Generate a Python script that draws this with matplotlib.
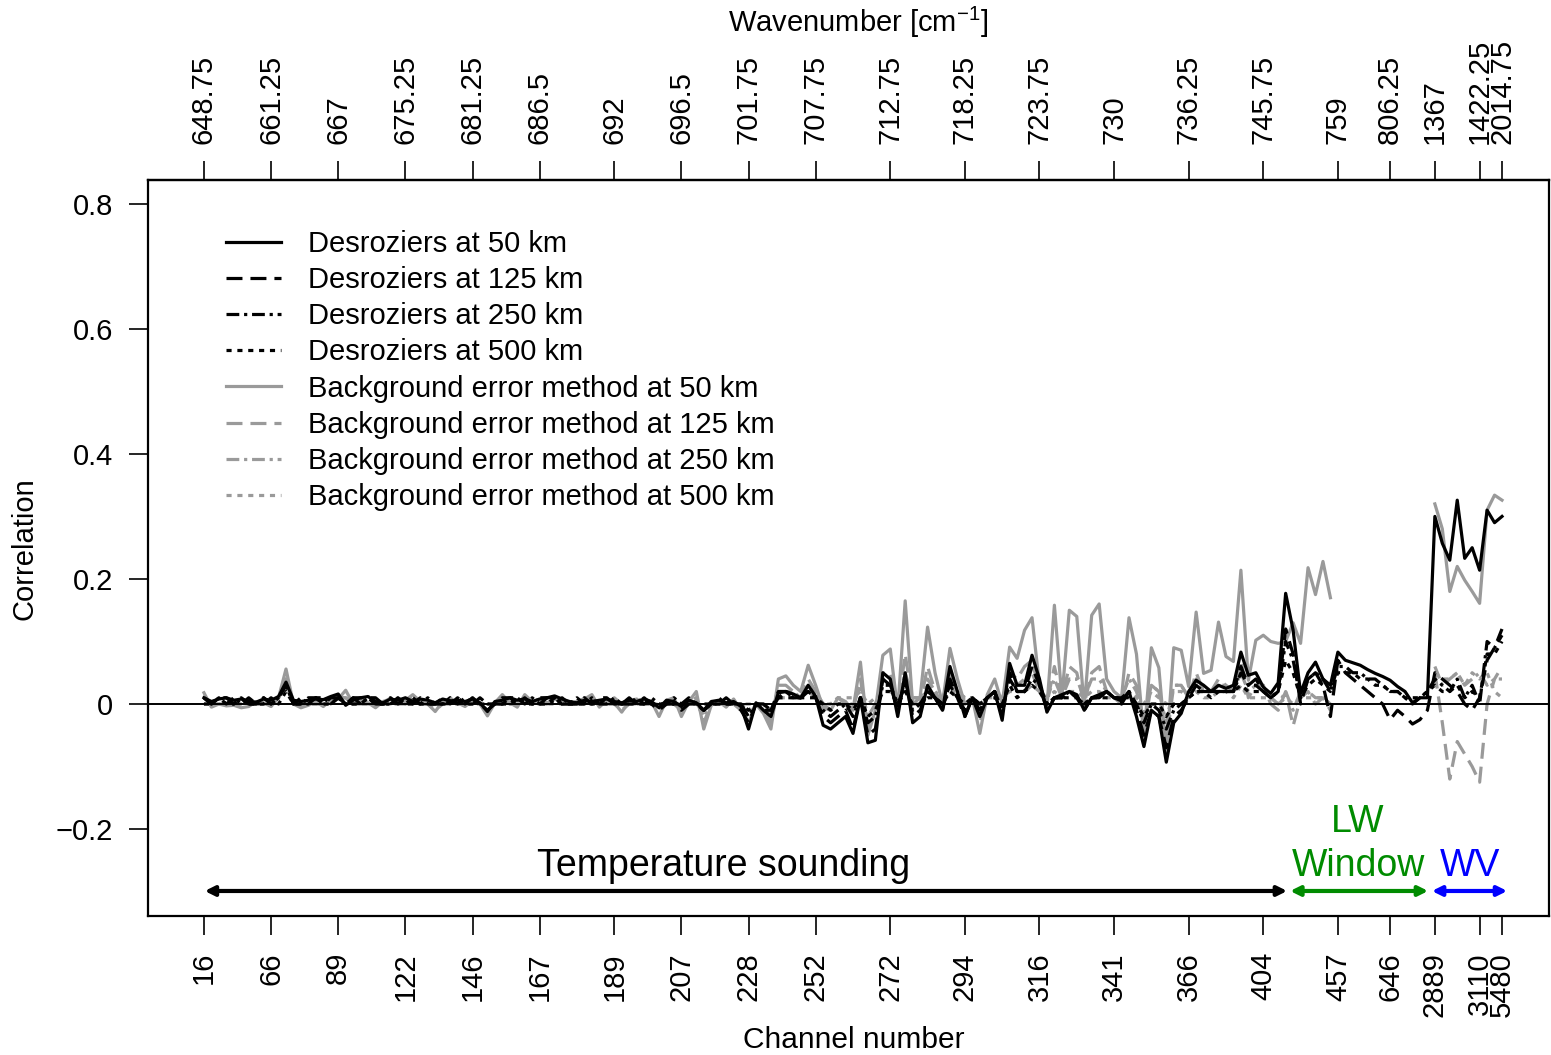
import numpy as np
import matplotlib
matplotlib.use("Agg")
import matplotlib.pyplot as plt

plt.rcParams['font.family'] = ['Liberation Sans', 'DejaVu Sans']
nan = np.nan

# ----------------------------
# Eixos: canais e números de onda
# ----------------------------
tick_idx = [0, 9, 18, 27, 36, 45, 55, 64, 73, 82, 92, 102, 112, 122, 132,
            142, 152, 159, 165, 171, 174]
chan_labels = ['16', '66', '89', '122', '146', '167', '189', '207', '228', '252',
               '272', '294', '316', '341', '366', '404', '457', '646', '2889',
               '3110', '5480']
wn_labels = ['648.75', '661.25', '667', '675.25', '681.25', '686.5', '692',
             '696.5', '701.75', '707.75', '712.75', '718.25', '723.75', '730',
             '736.25', '745.75', '759', '806.25', '1367', '1422.25', '2014.75']

# ----------------------------
# Correlações (175 canais)
# ----------------------------
des50 = [0.010, 0.004, 0.008, 0.010, 0.006, 0.008, 0.004, 0.003, 0.008, 0.006,
         0.012, 0.035, 0.006, 0.004, 0.006, 0.008, 0.007, 0.012, 0.016, -0.002,
         0.006, 0.010, 0.012, 0.004, 0.002, 0.008, 0.006, 0.010, 0.004, 0.008,
         0.006, 0.002, 0.008, 0.005, 0.006, 0.004, 0.008, 0.002, -0.012, 0.004,
         0.006, 0.010, 0.006, 0.008, 0.004, 0.008, 0.010, 0.013, 0.008, 0.004,
         0.002, 0.006, 0.004, 0.006, 0.008, 0.004, 0.002, 0.006, 0.004, 0.008,
         0.004, -0.006, 0.006, 0.004, -0.004, 0.006, 0.002, -0.010, 0.004, 0.006,
         0.002, 0.004, -0.004, -0.040, 0.002, -0.010, -0.020, 0.018, 0.020, 0.016,
         0.010, 0.030, 0.012, -0.034, -0.040, -0.030, -0.020, -0.047, 0.010, -0.062,
         -0.058, 0.050, 0.040, -0.020, 0.050, -0.030, -0.020, 0.030, 0.010, -0.010,
         0.060, 0.020, -0.020, 0.010, -0.020, 0.010, 0.020, -0.026, 0.065, 0.030,
         0.030, 0.078, 0.040, -0.013, 0.010, 0.015, 0.020, 0.015, -0.010, 0.010,
         0.015, 0.020, 0.010, 0.005, 0.020, -0.020, -0.068, -0.010, -0.020, -0.093,
         -0.030, -0.015, 0.020, 0.038, 0.030, 0.020, 0.030, 0.025, 0.030, 0.083,
         0.046, 0.050, 0.027, 0.017, 0.034, 0.177, 0.118, 0.017, 0.050, 0.067,
         0.040, 0.030, 0.083, 0.070, 0.066, 0.062, 0.055, 0.049, 0.044, 0.038,
         0.028, 0.020, 0.002, 0.010, 0.010, 0.300, 0.257, 0.230, 0.326, 0.233,
         0.250, 0.214, 0.310, 0.290, 0.300]

des125 = [.01, .00, .01, .01, .00, .01, .00, .00, .01, .00,
          .01, .03, .00, .00, .01, .01, .00, .01, .01, .00,
          .01, .01, .01, .00, .00, .01, .00, .01, .00, .01,
          .00, .00, .01, .00, .01, .00, .01, .00, -.01, .00,
          .01, .01, .00, .01, .00, .01, .01, .01, .00, .00,
          .00, .01, .00, .01, .01, .00, .00, .01, .00, .01,
          .00, -.01, .00, .00, -.01, .00, .00, -.01, .00, .01,
          .00, .00, -.01, -.03, .00, -.01, -.01, .02, .02, .01,
          .01, .02, .01, -.02, -.03, -.02, -.01, -.04, .01, -.05,
          -.04, .04, .03, -.01, .04, -.02, -.01, .02, .01, -.01,
          .04, .01, -.02, .01, -.01, .01, .02, -.02, .05, .02,
          .02, .06, .03, -.01, .01, .01, .02, .01, -.01, .01,
          .01, .02, .01, .00, .02, -.01, -.05, -.01, -.02, -.07,
          -.02, -.01, .01, .03, .02, .02, .02, .02, .02, .06,
          .03, .04, .02, .01, .02, .12, .08, .00, .04, .05,
          .03, -.02, .07, .05, .04, .03, .02, .01, .00, -.025,
          -.01, -.02, -.032, -.025, -.01, .05, .04, .03, .02, .00,
          -.01, .01, .07, .09, .12]

des250 = [.01, .00, .01, .00, .01, .00, .01, .00, .01, .00,
          .01, .03, .00, .01, .00, .01, .01, .00, .01, .00,
          .01, .00, .01, .01, .00, .00, .01, .00, .01, .00,
          .01, .00, .00, .01, .00, .01, .00, .01, .00, .00,
          .00, .01, .01, .00, .01, .00, .01, .00, .01, .00,
          .01, .00, .01, .00, .00, .01, .00, .00, .01, .00,
          .01, .00, .00, .01, .00, .01, .00, -.01, .00, .00,
          .01, .00, .00, -.02, .00, .00, -.01, .01, .02, .01,
          .01, .02, .01, -.01, -.02, -.01, .00, -.02, .01, -.03,
          -.02, .03, .03, .00, .03, -.01, .00, .02, .01, .00,
          .03, .01, -.01, .01, .00, .01, .02, -.01, .04, .02,
          .02, .04, .03, .00, .01, .01, .02, .01, .00, .01,
          .01, .02, .01, .01, .02, .00, -.03, .00, -.01, -.04,
          -.01, .00, .01, .02, .02, .02, .02, .02, .02, .05,
          .03, .03, .02, .01, .02, .10, .07, .01, .04, .05,
          .04, .02, .06, .06, .05, .05, .04, .04, .03, .02,
          .02, .01, .00, .01, .02, .04, .03, .02, .04, .01,
          .03, .00, .10, .09, .11]

des500 = [.00, .00, .01, .00, .00, .01, .00, .00, .00, .01,
          .00, .02, .00, .00, .00, .01, .00, .00, .01, .00,
          .00, .00, .01, .00, .00, .00, .01, .00, .00, .00,
          .00, .00, .00, .00, .01, .00, .00, .00, .00, .00,
          .00, .00, .01, .00, .00, .00, .00, .01, .00, .00,
          .00, .00, .00, .00, .01, .00, .00, .00, .00, .00,
          .00, .00, .00, .00, .00, .00, .00, .00, .00, .00,
          .00, .00, .00, -.01, .00, .00, -.01, .01, .01, .01,
          .01, .01, .01, .00, -.01, .00, .00, -.01, .01, -.02,
          -.01, .02, .02, .00, .02, .00, .00, .01, .01, .00,
          .02, .01, .00, .01, .00, .01, .01, .00, .03, .01,
          .02, .03, .02, .00, .01, .01, .01, .01, .00, .01,
          .01, .01, .01, .01, .01, .00, -.02, .00, .00, -.02,
          .00, .00, .01, .02, .02, .01, .02, .02, .02, .03,
          .02, .02, .02, .01, .02, .07, .05, .01, .03, .04,
          .03, .02, .05, .05, .05, .04, .04, .03, .03, .02,
          .02, .01, .01, .01, .02, .03, .02, .02, .03, .01,
          .02, .01, .08, .08, .10]

bg50 = [0.018, -0.005, 0.000, -0.003, -0.002, -0.006, -0.004, 0.004, 0.002, -0.004,
        0.010, 0.056, 0.000, -0.006, -0.002, 0.004, -0.004, 0.006, 0.008, 0.022,
        0.000, 0.004, 0.002, -0.006, 0.004, 0.008, 0.002, 0.006, 0.015, 0.004,
        0.000, -0.012, 0.004, 0.008, 0.002, -0.004, 0.006, 0.000, -0.019, 0.002,
        0.015, 0.002, -0.005, 0.015, 0.004, 0.006, 0.002, 0.008, 0.004, 0.000,
        0.004, 0.008, 0.015, -0.005, 0.006, 0.002, -0.013, 0.004, 0.008, 0.000,
        0.004, -0.020, 0.006, 0.010, -0.020, 0.004, 0.020, -0.040, -0.002, 0.004,
        -0.005, 0.008, -0.010, -0.030, 0.000, -0.015, -0.040, 0.040, 0.045, 0.030,
        0.020, 0.062, 0.030, -0.006, -0.010, 0.010, 0.004, -0.010, 0.067, -0.050,
        -0.010, 0.078, 0.088, -0.010, 0.165, 0.000, 0.010, 0.123, 0.050, 0.000,
        0.089, 0.040, 0.000, 0.010, -0.047, 0.015, 0.040, 0.000, 0.091, 0.073,
        0.118, 0.138, 0.030, -0.005, 0.158, 0.010, 0.150, 0.140, -0.005, 0.142,
        0.160, 0.040, 0.020, 0.010, 0.138, 0.080, -0.053, 0.090, 0.058, -0.079,
        0.090, 0.086, 0.028, 0.147, 0.049, 0.054, 0.131, 0.076, 0.068, 0.214,
        0.038, 0.102, 0.110, 0.100, 0.097, 0.100, 0.130, 0.097, 0.218, 0.175,
        0.228, 0.170, nan, nan, nan, nan, nan, nan, nan, nan,
        nan, nan, nan, nan, nan, 0.320, 0.280, 0.180, 0.220, 0.198,
        0.180, 0.161, 0.310, 0.334, 0.326]

bg125 = [.01, .00, .00, .00, .00, .00, .00, .00, .00, .00,
         .01, .04, .00, .00, .00, .00, .00, .00, .01, .01,
         .00, .00, .00, .00, .00, .01, .00, .00, .01, .00,
         .00, -.01, .00, .01, .00, .00, .00, .00, -.01, .00,
         .01, .00, .00, .01, .00, .00, .00, .01, .00, .00,
         .00, .01, .01, .00, .00, .00, -.01, .00, .01, .00,
         .00, -.01, .00, .01, -.01, .00, .01, -.03, .00, .00,
         .00, .00, -.01, -.02, .00, -.01, -.03, .03, .03, .02,
         .01, .04, .02, .00, -.01, .00, .00, -.01, .04, -.04,
         -.01, .05, .05, -.01, .08, .00, .00, .06, .02, .00,
         .05, .02, .00, .01, -.03, .01, .02, .00, .05, .04,
         .06, .07, .02, .00, .06, .01, .06, .05, .00, .05,
         .06, .02, .01, .00, .05, .03, -.04, .03, .02, -.06,
         .03, .03, .01, .05, .02, .02, .04, .03, .02, .07,
         .01, .03, .03, .00, -.01, .02, -.035, .01, .02, .00,
         .01, -.01, nan, nan, nan, nan, nan, nan, nan, nan,
         nan, nan, nan, nan, nan, .05, -.03, -.12, -.06, -.08,
         -.10, -.125, .00, .04, .06]

bg250 = [.01, .00, .00, .00, .00, .00, .01, .00, .00, .00,
         .01, .04, .00, .00, .00, .01, .00, .00, .01, .01,
         .00, .01, .00, .00, .00, .00, .01, .00, .01, .00,
         .00, .00, .00, .01, .00, .00, .01, .00, -.01, .00,
         .01, .00, .00, .01, .00, .01, .00, .01, .00, .00,
         .00, .00, .01, .00, .00, .01, .00, .00, .00, .00,
         .00, -.01, .00, .00, -.01, .00, .01, -.02, .00, .00,
         .00, .00, .00, -.01, .00, .00, -.02, .02, .02, .02,
         .01, .03, .02, .00, .00, .01, .00, .00, .03, -.02,
         .00, .04, .04, .00, .05, .01, .01, .04, .02, .01,
         .04, .02, .01, .01, -.01, .01, .02, .01, .04, .03,
         .04, .05, .02, .01, .04, .01, .04, .04, .01, .04,
         .04, .02, .01, .01, .04, .02, -.02, .03, .02, -.03,
         .03, .03, .01, .04, .02, .02, .03, .03, .02, .05,
         .02, .03, .03, .01, .00, .02, -.01, .02, .02, .01,
         .01, .00, nan, nan, nan, nan, nan, nan, nan, nan,
         nan, nan, nan, nan, nan, .06, .03, .04, .05, .03,
         .04, .05, .03, .04, .04]

bg500 = [.00, .00, .00, .00, .00, .00, .00, .00, .00, .00,
         .01, .03, .00, .00, .00, .00, .00, .00, .01, .00,
         .00, .00, .00, .00, .00, .00, .00, .00, .01, .00,
         .00, .00, .00, .00, .00, .00, .00, .00, .00, .00,
         .00, .00, .00, .01, .00, .00, .00, .00, .00, .00,
         .00, .00, .01, .00, .00, .00, .00, .00, .00, .00,
         .00, .00, .00, .00, .00, .00, .00, -.01, .00, .00,
         .00, .00, .00, .00, .00, .00, -.01, .01, .01, .01,
         .01, .02, .01, .00, .00, .01, .01, .01, .02, .00,
         .01, .02, .02, .01, .03, .01, .01, .02, .01, .01,
         .02, .02, .01, .01, .00, .01, .01, .01, .02, .02,
         .02, .03, .02, .01, .02, .01, .02, .02, .01, .02,
         .02, .01, .01, .01, .02, .01, .00, .02, .01, .00,
         .02, .02, .01, .02, .01, .01, .02, .02, .01, .03,
         .01, .01, .01, .01, .00, .01, .00, .01, .01, .01,
         .01, .00, nan, nan, nan, nan, nan, nan, nan, nan,
         nan, nan, nan, nan, nan, .05, .04, .04, .05, .03,
         .05, .04, .05, .02, .01]

labels = ['Desroziers at 50 km', 'Desroziers at 125 km', 'Desroziers at 250 km',
          'Desroziers at 500 km', 'Background error method at 50 km',
          'Background error method at 125 km', 'Background error method at 250 km',
          'Background error method at 500 km']

# ----------------------------
# Figura
# ----------------------------
W, H = 1551, 1055
fig = plt.figure(figsize=(W / 100, H / 100), dpi=100)
ax = fig.add_axes([148 / W, 1 - 916 / H, (1549 - 148) / W, (916 - 180) / H])

grey = '#9a9a9a'
styles = ['-', (0, (5, 2.5)), (0, (4, 1.5, 1, 1.5)), (0, (1.6, 1.8))]
lw = 2.3

series_bg = [bg50, bg125, bg250, bg500]
series_des = [des50, des125, des250, des500]
lines = {}
for k in range(4):
    y = np.array(series_bg[k], dtype=float)
    l, = ax.plot(np.arange(len(y)), y, color=grey, lw=lw, ls=styles[k], zorder=2)
    lines[4 + k] = l
for k in range(4):
    y = np.array(series_des[k], dtype=float)
    l, = ax.plot(np.arange(len(y)), y, color='black', lw=lw, ls=styles[k], zorder=3)
    lines[k] = l

ax.axhline(0, color='black', lw=1.4, zorder=4)

ax.set_xlim(-7.5, 180.3)
ax.set_ylim(-0.339, 0.838)

for s in ax.spines.values():
    s.set_linewidth(1.6)

ax.set_yticks([-0.2, 0, 0.2, 0.4, 0.6, 0.8])
ax.set_yticklabels(['\u22120.2', '0', '0.2', '0.4', '0.6', '0.8'])
ax.tick_params(axis='y', length=14, width=1.2, pad=11, labelsize=21)

ax.set_xticks(tick_idx)
ax.set_xticklabels(chan_labels, rotation=90)
ax.tick_params(axis='x', length=14, width=1.2, pad=12, labelsize=21)

top = ax.secondary_xaxis('top')
top.set_xticks(tick_idx)
top.set_xticklabels(wn_labels, rotation=90)
top.tick_params(axis='x', length=14, width=1.2, pad=12, labelsize=21)
top.spines['top'].set_linewidth(1.6)

fig.text(25 / W, 1 - 549 / H, 'Correlation', rotation=90, ha='center', va='center', fontsize=21)
fig.text(854 / W, 1 - 1040 / H, 'Channel number', ha='center', va='center', fontsize=21.5)
fig.text(858 / W, 1 - 22 / H, r'Wavenumber [cm$^{\mathregular{-1}}$]', ha='center',
         va='center', fontsize=21)

# Legenda
leg = ax.legend([lines[k] for k in range(8)], labels, loc='upper left',
                bbox_to_anchor=(226 / W, 1 - 230 / H), bbox_transform=fig.transFigure,
                frameon=False, fontsize=21, handlelength=1.9, handletextpad=0.9,
                labelspacing=0.28, borderpad=0, borderaxespad=0)

# Faixas espectrais
yarr = -0.299
arrows = [(0.1, 145.2, 'black'), (145.6, 164.1, '#008B00'), (164.6, 174.7, 'blue')]
for x0, x1, c in arrows:
    ax.annotate('', xy=(x0, yarr), xytext=(x1, yarr),
                arrowprops=dict(arrowstyle='<|-|>', color=c, lw=3, shrinkA=0, shrinkB=0,
                                mutation_scale=14))
ax.text(69.7, -0.259, 'Temperature sounding', ha='center', va='center', fontsize=27)
ax.text(154.7, -0.189, 'LW', ha='center', va='center', fontsize=27, color='#008B00')
ax.text(154.7, -0.259, 'Window', ha='center', va='center', fontsize=27, color='#008B00')
ax.text(169.7, -0.259, 'WV', ha='center', va='center', fontsize=27, color='blue')

fig.savefig('out.png', dpi=100)
